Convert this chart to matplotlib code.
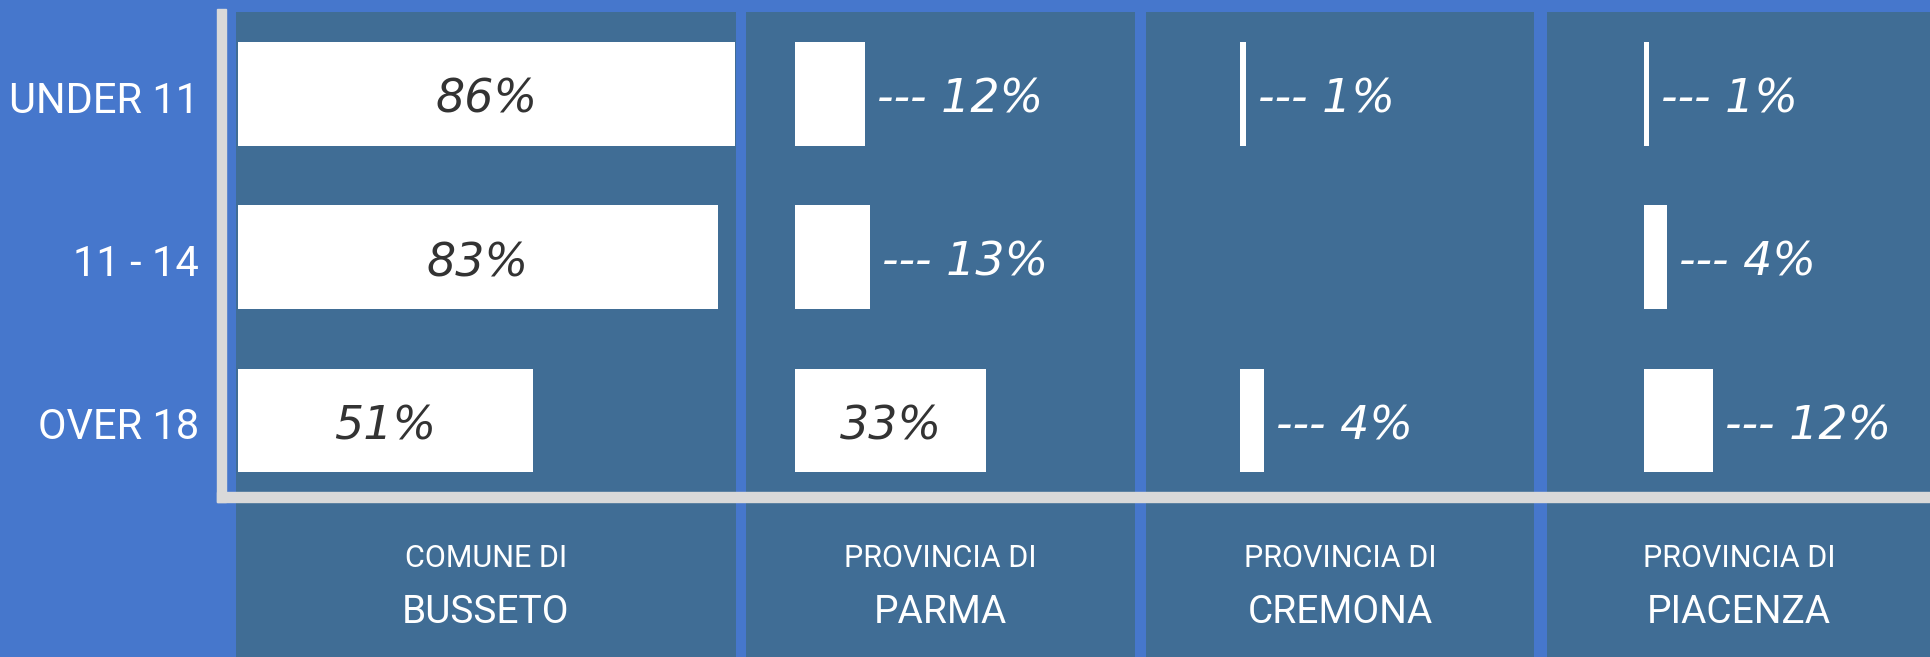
import matplotlib
matplotlib.use("Agg")
import matplotlib.pyplot as plt
from matplotlib.patches import Rectangle
import numpy as np

categories = ['UNDER 11', '11 - 14', 'OVER 18']
region_kind = ['COMUNE DI', 'PROVINCIA DI', 'PROVINCIA DI', 'PROVINCIA DI']
region_name = ['BUSSETO', 'PARMA', 'CREMONA', 'PIACENZA']
busseto = [86, 83, 51]
parma = [12, 13, 33]
cremona = [1, np.nan, 4]
piacenza = [1, 4, 12]
series = [busseto, parma, cremona, piacenza]

W, H = 1931, 657
outer_bg = '#4677cc'
panel_bg = '#406d95'
axis_gray = '#d9d9d9'
label_font = ['Roboto', 'DejaVu Sans']
value_font = ['DejaVu Sans']

fig = plt.figure(figsize=(W / 100, H / 100), dpi=100, facecolor=outer_bg)

# panel edges in pixels (left, right, where the bars start)
panels = [(236, 735.6, 238), (746, 1134.6, 795.3), (1146, 1534, 1240.4), (1547, 1931, 1643.7)]
px_per_pct = 5.78
top, bottom = 12, H

axes = []
for (left, right, start), vals, kind, name in zip(panels, series, region_kind, region_name):
    ax = fig.add_axes([left / W, 0, (right - left) / W, (bottom - top) / H])
    ax.set_facecolor(panel_bg)
    ax.set_xlim(-(start - left) / px_per_pct, (right - start) / px_per_pct)
    ax.set_ylim(3.449, -0.501)
    for s in ax.spines.values():
        s.set_visible(False)
    ax.set_xticks([])
    ax.set_yticks([])

    y = np.arange(len(categories))
    ax.barh(y, vals, height=0.634, color='white', clip_on=False)
    for i, v in enumerate(vals):
        if np.isnan(v):
            continue
        if v >= 20:
            ax.text(v / 2, i + 0.117, f'{v:.0f}%', ha='center', va='baseline',
                    fontsize=33, style='italic', color='#333333', family=value_font)
        else:
            ax.annotate(f'--- {v:.0f}%', xy=(v, i + 0.115), xytext=(12, 0),
                        textcoords='offset pixels', ha='left', va='baseline',
                        fontsize=33, style='italic', color='white', family=value_font)

    ax.text(0.5, 0.1395, kind, transform=ax.transAxes, ha='center', va='baseline',
            fontsize=22, color='white', family=label_font)
    ax.text(0.5, 0.0527, name, transform=ax.transAxes, ha='center', va='baseline',
            fontsize=28, color='white', family=label_font)
    axes.append(ax)

# category labels on the left
for i, c in enumerate(categories):
    axes[0].annotate(c, xy=(0, i + 0.117), xytext=(-39, 0), textcoords='offset pixels',
                     ha='right', va='baseline', fontsize=30, color='white',
                     family=label_font, annotation_clip=False)

# light gray axis lines
fig.patches.append(Rectangle((216.7 / W, (H - 501.7) / H), 9.6 / W, (501.7 - 8.7) / H,
                             transform=fig.transFigure, color=axis_gray, zorder=5))
fig.patches.append(Rectangle((216.7 / W, (H - 501.7) / H), (W - 216.7) / W, 9.4 / H,
                             transform=fig.transFigure, color=axis_gray, zorder=5))

fig.savefig('out.png', dpi=100, facecolor=outer_bg)
